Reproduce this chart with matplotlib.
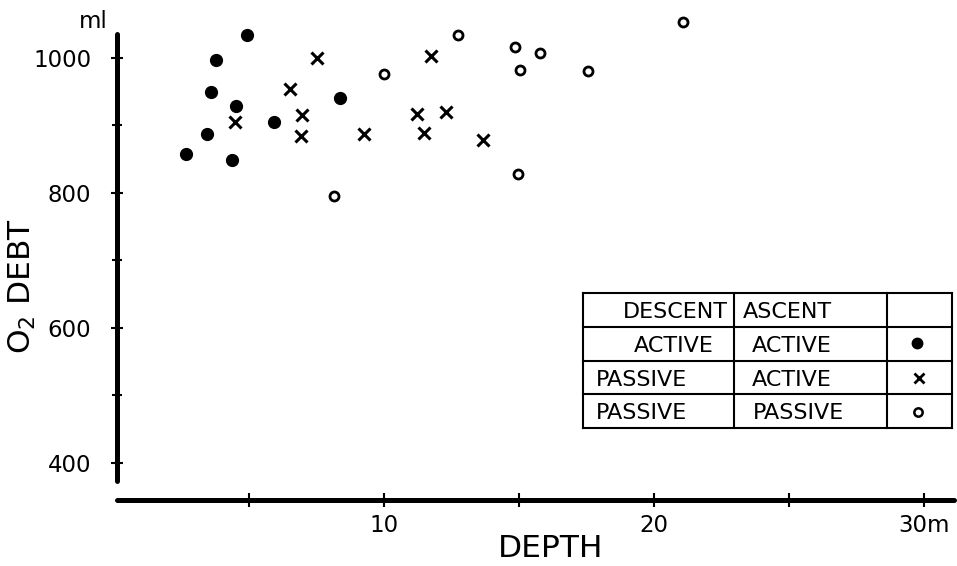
import matplotlib
matplotlib.use("Agg")
import matplotlib.pyplot as plt
from matplotlib.lines import Line2D

plt.rcParams['font.family'] = ['DejaVu Sans']

# ---- data (depth in m, O2 debt in ml) ----
active_active_x = [2.68, 3.46, 3.60, 3.79, 4.38, 4.53, 4.94, 5.93, 8.38]
active_active_y = [857, 887, 949, 996, 848, 928, 1033, 905, 940]

passive_active_x = [4.49, 6.53, 6.97, 6.93, 7.52, 9.26, 11.74, 11.23, 12.30, 11.48, 13.67]
passive_active_y = [905, 953, 915, 884, 1000, 887, 1002, 916, 919, 888, 878]

passive_passive_x = [10.0, 8.15, 12.74, 14.85, 15.78, 15.04, 17.55, 14.96, 21.07]
passive_passive_y = [976, 795, 1033, 1015, 1006, 981, 980, 828, 1052]

x_ticks = [5, 10, 15, 20, 25, 30]
x_tick_labels = ['', '10', '', '20', '', '30m']
y_major = [400, 600, 800, 1000]
y_minor = [500, 700, 900]

table_rows = [("DESCENT", "ASCENT"), ("ACTIVE", "ACTIVE"),
              ("PASSIVE", "ACTIVE"), ("PASSIVE", "PASSIVE")]

W, H = 957, 566
fig = plt.figure(figsize=(W / 100, H / 100), dpi=100)

def fx(x):
    return x / W

def fy(y):
    return 1 - y / H

ax = fig.add_axes([fx(117), fy(500), (954 - 117) / W, (500 - 10) / H])
ax.set_xlim(0.13, 31.1)
ax.set_ylim(345.4, 1070.3)

ax.plot(active_active_x, active_active_y, 'o', color='black', markersize=8.5, clip_on=False)
ax.plot(passive_active_x, passive_active_y, 'x', color='black', markersize=8.5,
        markeredgewidth=2.2, clip_on=False)
ax.plot(passive_passive_x, passive_passive_y, 'o', markerfacecolor='white',
        markeredgecolor='black', markersize=6.5, markeredgewidth=2.0, clip_on=False)

for s in ['top', 'right']:
    ax.spines[s].set_visible(False)
ax.spines['left'].set_linewidth(3.6)
ax.spines['bottom'].set_linewidth(3.6)
ax.spines['left'].set_bounds(373, 1035)
ax.spines['left'].set_capstyle('round')
ax.spines['bottom'].set_capstyle('round')

ax.set_yticks(y_major)
ax.set_yticks(y_minor, minor=True)
ax.set_yticklabels([str(v) for v in y_major], fontsize=16.5)
ax.tick_params(axis='y', which='major', direction='inout', length=9, width=1.5, pad=14)
ax.tick_params(axis='y', which='minor', direction='inout', length=7, width=1.5)

ax.set_xticks(x_ticks)
ax.set_xticklabels(x_tick_labels, fontsize=16.5)
ax.tick_params(axis='x', which='major', direction='inout', length=10, width=1.5, pad=5)

fig.text(fx(551), fy(548.5), 'DEPTH', fontsize=22.5, ha='center', va='center')
fig.text(fx(22), fy(286.5), r'O$_2$ DEBT', fontsize=22.5, ha='center', va='center',
         rotation=90)

fig.text(fx(93), fy(21), 'ml', fontsize=16.5, ha='center', va='center')

# ---- legend table ----
lw = 1.5
xl, xr = 583, 952
rows_y = [293, 327, 361, 394, 428]
cols_x = [583, 734, 887, 952]
for y in rows_y:
    fig.add_artist(Line2D([fx(xl), fx(xr)], [fy(y), fy(y)], color='black', lw=lw))
for x in cols_x:
    fig.add_artist(Line2D([fx(x), fx(x)], [fy(rows_y[0]), fy(rows_y[-1])], color='black', lw=lw))

fs = 16
baselines = [318, 352, 385.5, 419]
col1_specs = [(728, 'right'), (714, 'right'), (596, 'left'), (596, 'left')]
col2_x = [743, 752, 752, 753]
for i, (a, b) in enumerate(table_rows):
    x1, ha1 = col1_specs[i]
    fig.text(fx(x1), fy(baselines[i]), a, fontsize=fs, ha=ha1, va='baseline')
    fig.text(fx(col2_x[i]), fy(baselines[i]), b, fontsize=fs, ha='left', va='baseline')

fig.add_artist(Line2D([fx(917)], [fy(343)], marker='o', color='black', markersize=7.5, linestyle='none'))
fig.add_artist(Line2D([fx(919)], [fy(378)], marker='x', color='black', markersize=6.5,
                      markeredgewidth=2.0, linestyle='none'))
fig.add_artist(Line2D([fx(918)], [fy(412)], marker='o', markerfacecolor='white',
                      markeredgecolor='black', markersize=6, markeredgewidth=1.8, linestyle='none'))

fig.savefig('out.png', dpi=100)
